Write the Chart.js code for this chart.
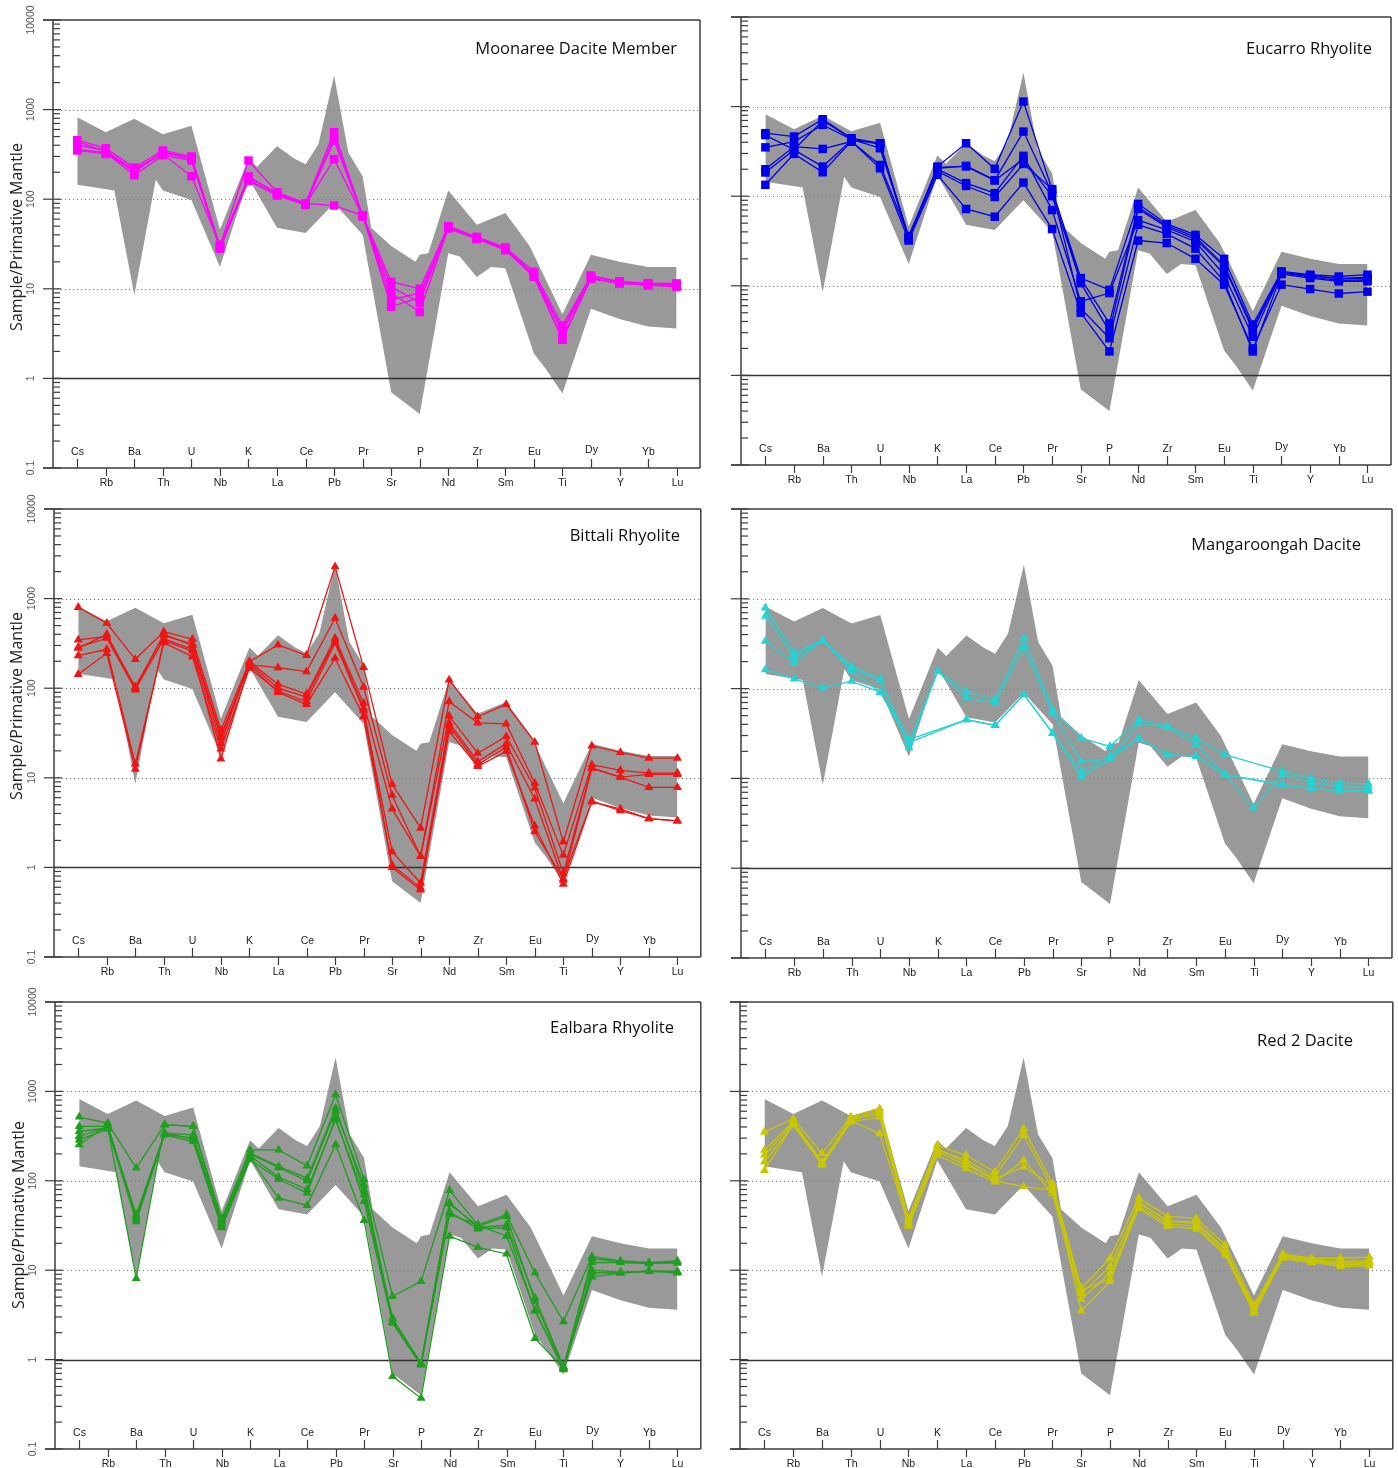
<!DOCTYPE html>
<html lang="en">
<head>
<meta charset="UTF-8">
<title>Primitive mantle normalised multi-element plots</title>
<script src="https://cdn.jsdelivr.net/npm/chart.js@4.4.0/dist/chart.umd.min.js"></script>
<style>
  body { margin: 0; background: #fff; }
  .page { position: relative; width: 1398px; height: 1468px; }
  .page canvas { position: absolute; }
</style>
</head>
<body>
<div class="page" id="page"></div>
<script>
// element order along the x axis
const elements = ['Cs','Rb','Ba','Th','U','Nb','K','La','Ce','Pb','Pr','Sr','P','Nd','Zr','Sm','Eu','Ti','Dy','Y','Yb','Lu'];
const decadeLabels = ['0.1', '1', '10', '100', '1000', '10000'];
const decades = [0.1, 1, 10, 100, 1000, 10000];

// grey field of all samples: [element position, value]
const fieldUpper = [
  [0, 820], [1, 560], [2, 790], [3, 530], [4, 660], [5, 46], [6, 285], [6.3, 230],
  [7, 390], [7.6, 285], [8, 245], [8.45, 410], [9, 2400], [9.5, 330], [10, 180],
  [10.3, 48], [11, 30], [11.85, 20], [12, 24], [12.3, 25], [13, 125], [14, 52],
  [15, 70], [15.85, 30], [17, 5.2], [18, 24], [19, 20], [20, 17.5], [21, 17.5]
];
const fieldLower = [
  [0, 145], [1.3, 125], [2, 8.5], [2.75, 165], [3, 125], [4, 98], [5, 17.5], [6, 170],
  [7, 48], [8, 42], [9, 90], [9.5, 60], [10, 40], [11, 0.7], [12, 0.4], [13, 25],
  [13.4, 23], [14, 13.5], [14.5, 17.5], [15, 17], [16, 1.9], [16.4, 1.3], [17, 0.68],
  [18, 6], [19, 4.6], [20, 3.8], [21, 3.6]
];

const moonaree = [
  [455, 370, 225, 350, 300, 30, 270, 120, 90, 560, 66, 12, 10, 50, 38, 29, 15.5, 3.9, 14, 12, 11.5, 11.5],
  [400, 350, 210, 330, 280, 29, 180, 115, 88, 500, 65, 10.5, 7, 49, 37, 28, 14.5, 3.3, 13.5, 12, 11, 11],
  [360, 330, 185, 310, 270, 28, 165, 112, 86, 450, 64, 9, 5.5, 48, 36, 28, 14, 2.8, 13, 11.5, 11, 10.5],
  [350, 320, 215, 320, 180, 31, 160, 110, 87, 280, 65, 7.5, 9, 47, 36, 27, 13.6, 2.7, 13, 11.5, 11, 11],
  [440, 340, 200, 340, 290, 29, 175, 118, 90, 85, 66, 6.3, 8, 48, 37, 28, 14.5, 3.5, 14, 12, 11.5, 11]
];
const eucarro = [
  [505, 463, 723, 444, 390, 33, 214, 390, 202, 1137, 118, 12.2, 9.0, 82, 49, 37, 20, 3.7, 14.5, 13.3, 12.7, 13.3],
  [351, 407, 625, 430, 343, 35, 205, 218, 151, 526, 108, 10.7, 3.1, 72, 45, 33, 16.4, 3.2, 14, 13, 12, 12.5],
  [200, 358, 337, 407, 223, 36, 200, 140, 108, 282, 70, 6.7, 8.3, 54, 42, 31, 13.3, 2.7, 14, 12.5, 11.5, 11.6],
  [184, 329, 214, 420, 390, 34, 190, 130, 98, 229, 120, 5.6, 2.6, 48, 38, 26, 11.2, 1.85, 13.5, 12.2, 11.2, 11.2],
  [134, 297, 185, 410, 205, 32, 173, 72, 59, 142, 43, 5.0, 1.85, 32, 30, 20, 10.3, 2.0, 10.3, 9.2, 8.2, 8.6],
  [480, 330, 700, 440, 380, 35, 210, 215, 150, 260, 100, 12, 3.8, 75, 47, 35, 17, 3.4, 14, 13, 12, 12]
];
const bittali = [
  [800, 531, 210, 428, 352, 34, 198, 304, 233, 2275, 171, 8.5, 2.75, 124, 48, 66, 25, 1.93, 22.7, 19.2, 16.6, 16.6],
  [346, 377, 104, 387, 312, 30, 182, 170, 153, 604, 103, 6.4, 1.33, 71, 41, 40, 8.7, 1.37, 14, 12.1, 11.3, 11.3],
  [287, 361, 96, 355, 272, 24, 198, 111, 86, 361, 68, 4.5, 1.33, 49, 18.8, 29, 7.7, 0.86, 12.8, 10.2, 10.9, 10.9],
  [231, 272, 14.3, 323, 225, 21, 167, 93, 71, 318, 57, 1.5, 0.67, 41, 15.2, 24, 5.8, 0.72, 12.8, 10.2, 7.8, 7.8],
  [143, 245, 12.5, 340, 260, 16.3, 182, 90, 66, 216, 48, 1.06, 0.59, 33, 13.4, 19.7, 2.9, 0.65, 5.4, 4.5, 3.5, 3.3],
  [280, 400, 100, 400, 300, 28, 190, 100, 80, 340, 60, 1.0, 0.56, 38, 14, 22, 2.5, 0.75, 5.5, 4.3, 3.5, 3.3]
];
const mangaroongah = [
  [794, 250, 346, 177, 128, 22, 156, 93, 75, 367, 58, 28, 22.7, 45, 38, 28, 18.4, null, 12, 10, 8.9, 8.7],
  [641, 229, 340, 165, 125, 25, 156, 79, 69, 285, 54, 15.5, 16.4, 41, 37, 24, 11, 4.7, 11, 9, 8, 8],
  [337, 193, 346, 156, 91, 27, null, 45, 39, 86, 32, 12, 17.6, 28, 18.4, 17.6, 11, null, 8.5, 7.8, 7.2, 7.2],
  [163, 128, 102, 121, 91, 25, null, 45, 39, 86, 32, 10.5, 16.4, 28, 18.4, 17.6, 11, null, 8.5, 7.8, 7.2, 7.4]
];
const ealbara = [
  [517, 443, 139, 424, 406, 38, 222, 222, 147, 918, 103, 5.1, 7.5, 78, 32, 42, 9.3, 2.66, 14.2, 12.7, 12.2, 12.7],
  [406, 406, 42, 342, 327, 34, 204, 145, 107, 651, 78, 2.9, 0.91, 57, 30, 32, 4.9, 0.84, 12.2, 12.2, 12, 12],
  [356, 389, 35, 327, 275, 30, 172, 104, 73, 503, 59, 2.55, 0.87, 42, 32, 24, 3.6, 0.77, 9.4, 9.3, 9.8, 9.7],
  [313, 400, 8.1, 424, 406, 33, 180, 64, 53, 253, 36, 0.65, 0.37, 24, 18, 15.2, 1.73, 0.8, 8.4, 9.3, 9.8, 9.3],
  [253, 420, 38, 330, 300, 36, 200, 140, 100, 600, 90, 2.7, 0.9, 45, 29, 30, 3.5, 0.82, 13.5, 12.4, 11.8, 12.4],
  [287, 380, 40, 345, 290, 31, 190, 110, 80, 480, 70, 2.6, 0.88, 55, 31, 40, 4.5, 0.79, 10, 9.5, 9.7, 9.6]
];
const red2 = [
  [351, 495, 202, 518, 641, 38, 250, 193, 126, 384, 93, 6.3, 13.6, 64, 40, 38, 19.2, 4.1, 15.2, 13.6, 13.6, 14],
  [220, 460, 163, 480, 564, 35, 220, 170, 111, 323, 82, 5.5, 11, 56, 36, 33, 16.9, 3.8, 14.5, 13, 12.5, 12.8],
  [193, 440, 150, 455, 518, 31, 193, 137, 97, 170, 72, 4.7, 9.3, 49, 31, 29, 14.8, 3.3, 13.6, 12.2, 12, 12.2],
  [163, 418, 155, 470, 337, 33, 210, 150, 105, 143, 88, 3.5, 7.5, 52, 33, 31, 15.5, 3.5, 14, 12.5, 11, 11.2],
  [131, 430, 160, 500, 600, 32, 230, 160, 100, 86, 78, 6, 8, 58, 35, 35, 17, 3.6, 14.8, 13, 11.5, 11.8]
];

// canvas box and plot box are page coordinates: [left, top, right, bottom]
const panels = [
  { title: 'Moonaree Dacite Member', series: moonaree, color: '#ff00ff', marker: 'rect', radius: 6,
    canvas: [0, 0, 706, 490], plot: [53, 20, 703, 468], titleAt: [677, 49], yTitleAt: [17, 237] },
  { title: 'Eucarro Rhyolite', series: eucarro, color: '#0000ee', marker: 'rect', radius: 6,
    canvas: [706, 0, 1398, 490], plot: [741, 17, 1391, 465], titleAt: [1372, 49] },
  { title: 'Bittali Rhyolite', series: bittali, color: '#f01414', marker: 'triangle', radius: 5.2,
    canvas: [0, 490, 706, 980], plot: [54, 509, 704, 957], titleAt: [680, 536], yTitleAt: [17, 706] },
  { title: 'Mangaroongah Dacite', series: mangaroongah, color: '#22d4d4', marker: 'triangle', radius: 5.2,
    canvas: [706, 490, 1398, 980], plot: [741, 509, 1392, 958], titleAt: [1361, 545] },
  { title: 'Ealbara Rhyolite', series: ealbara, color: '#1f9e1f', marker: 'triangle', radius: 5.2,
    canvas: [0, 980, 706, 1468], plot: [55, 1002, 705, 1449], titleAt: [674, 1028], yTitleAt: [19, 1215] },
  { title: 'Red 2 Dacite', series: red2, color: '#c9c700', marker: 'triangle', radius: 5.2,
    canvas: [706, 980, 1398, 1468], plot: [740, 1002, 1393, 1449], titleAt: [1353, 1041] }
];

function strokeLine(ctx, x0, y0, x1, y1) {
  ctx.beginPath();
  ctx.moveTo(x0, y0);
  ctx.lineTo(x1, y1);
  ctx.stroke();
}

// frame, log ticks, element ticks and labels drawn from the chart's scales
const spiderAxes = {
  id: 'spiderAxes',
  beforeDatasetsDraw(chart, args, o) {
    const { ctx, chartArea: a, scales: { y } } = chart;
    ctx.save();
    ctx.lineWidth = 1;
    ctx.strokeStyle = '#808080';
    ctx.setLineDash([1.2, 2.8]);
    [10, 100, 1000].forEach(v => {
      const py = Math.round(y.getPixelForValue(v)) + 0.5;
      strokeLine(ctx, a.left, py, a.right, py);
    });
    ctx.setLineDash([]);
    ctx.strokeStyle = '#333';
    ctx.lineWidth = 1.3;
    const p1 = Math.round(y.getPixelForValue(1)) + 0.5;
    strokeLine(ctx, a.left, p1, a.right, p1);
    ctx.restore();
  },
  afterDatasetsDraw(chart, args, o) {
    const { ctx, chartArea: a, scales: { x, y } } = chart;
    ctx.save();
    ctx.strokeStyle = '#3c3c3c';
    ctx.lineWidth = 1.5;
    // box: top, right, bottom axis, left axis
    strokeLine(ctx, a.left - 10, a.top, a.right, a.top);
    strokeLine(ctx, a.right, a.top, a.right, a.bottom);
    strokeLine(ctx, a.left - 10, a.bottom, a.right, a.bottom);
    strokeLine(ctx, a.left, a.top, a.left, a.bottom);

    // logarithmic ticks
    ctx.lineWidth = 1.2;
    decades.forEach((d, k) => {
      const py = y.getPixelForValue(d);
      strokeLine(ctx, a.left - 10, py, a.left + 8, py);
      if (k < decades.length - 1) {
        for (let m = 2; m <= 9; m++) {
          const pm = y.getPixelForValue(d * m);
          strokeLine(ctx, a.left, pm, a.left + 7, pm);
        }
      }
    });

    // decade labels, turned on their side
    if (o.yLabels) {
      ctx.fillStyle = '#555';
      ctx.font = '10.5px "Liberation Sans Narrow", "Liberation Sans", Arial, sans-serif';
      ctx.textAlign = 'center';
      ctx.textBaseline = 'middle';
      decades.forEach((d, k) => {
        ctx.save();
        ctx.translate(a.left - 22, y.getPixelForValue(d));
        ctx.rotate(-Math.PI / 2);
        ctx.fillText(decadeLabels[k], 0, 0);
        ctx.restore();
      });
    }

    // element ticks: even ones point up with labels inside, odd ones point down
    ctx.lineWidth = 1.2;
    ctx.fillStyle = '#222';
    ctx.font = '10.5px "Liberation Sans Narrow", "Liberation Sans", Arial, sans-serif';
    ctx.textAlign = 'center';
    ctx.textBaseline = 'alphabetic';
    elements.forEach((el, i) => {
      const px = Math.round(x.getPixelForValue(i)) + 0.5;
      const m = ctx.measureText(el);
      if (i % 2 === 0) {
        strokeLine(ctx, px, a.bottom, px, a.bottom - 9);
        ctx.fillText(el, px, a.bottom - 13 - m.actualBoundingBoxDescent);
      } else {
        strokeLine(ctx, px, a.bottom, px, a.bottom + 8);
        ctx.fillText(el, px, a.bottom + 10 + m.actualBoundingBoxAscent);
      }
    });

    // unit name
    ctx.fillStyle = '#111';
    ctx.font = '16.5px "Open Sans", "Noto Sans", sans-serif';
    ctx.textAlign = 'right';
    ctx.textBaseline = 'middle';
    ctx.fillText(o.title, o.titleAt[0], o.titleAt[1]);

    if (o.yTitleAt) {
      ctx.save();
      ctx.translate(o.yTitleAt[0], o.yTitleAt[1]);
      ctx.rotate(-Math.PI / 2);
      ctx.textAlign = 'center';
      ctx.font = '16px "Open Sans", "Noto Sans", sans-serif';
      ctx.fillStyle = '#222';
      ctx.fillText('Sample/Primative Mantle', 0, 0);
      ctx.restore();
    }
    ctx.restore();
  }
};

const page = document.getElementById('page');

panels.forEach(p => {
  const [cx0, cy0, cx1, cy1] = p.canvas;
  const [px0, py0, px1, py1] = p.plot;
  const canvas = document.createElement('canvas');
  canvas.width = cx1 - cx0;
  canvas.height = cy1 - cy0;
  canvas.style.left = cx0 + 'px';
  canvas.style.top = cy0 + 'px';
  page.appendChild(canvas);

  const datasets = [
    {
      data: fieldUpper.map(([xv, v]) => ({ x: xv, y: v })),
      borderWidth: 0, borderColor: 'rgba(0,0,0,0)', backgroundColor: '#999999',
      pointRadius: 0, fill: '+1', order: 10
    },
    {
      data: fieldLower.map(([xv, v]) => ({ x: xv, y: v })),
      borderWidth: 0, borderColor: 'rgba(0,0,0,0)', pointRadius: 0, fill: false, order: 10
    }
  ];
  p.series.forEach(vals => {
    datasets.push({
      data: vals.map((v, i) => ({ x: i, y: v })).filter(pt => pt.y !== null),
      borderColor: p.color,
      backgroundColor: p.color,
      borderWidth: 1.3,
      pointStyle: p.marker,
      pointRadius: p.radius,
      pointHoverRadius: p.radius,
      pointBorderWidth: 0,
      fill: false,
      tension: 0,
      order: 0
    });
  });

  new Chart(canvas, {
    type: 'line',
    data: { datasets },
    options: {
      responsive: false,
      animation: false,
      events: [],
      layout: {
        padding: { left: px0 - cx0, top: py0 - cy0, right: cx1 - px1, bottom: cy1 - py1 }
      },
      scales: {
        x: { type: 'linear', min: -0.85, max: 21.82, display: false },
        y: { type: 'logarithmic', min: 0.1, max: 10000, display: false }
      },
      plugins: {
        legend: { display: false },
        tooltip: { enabled: false },
        filler: { drawTime: 'beforeDraw' },
        spiderAxes: {
          title: p.title,
          titleAt: [p.titleAt[0] - cx0, p.titleAt[1] - cy0],
          yTitleAt: p.yTitleAt ? [p.yTitleAt[0] - cx0, p.yTitleAt[1] - cy0] : null,
          yLabels: cx0 === 0
        }
      }
    },
    plugins: [spiderAxes]
  });
});
</script>
</body>
</html>
